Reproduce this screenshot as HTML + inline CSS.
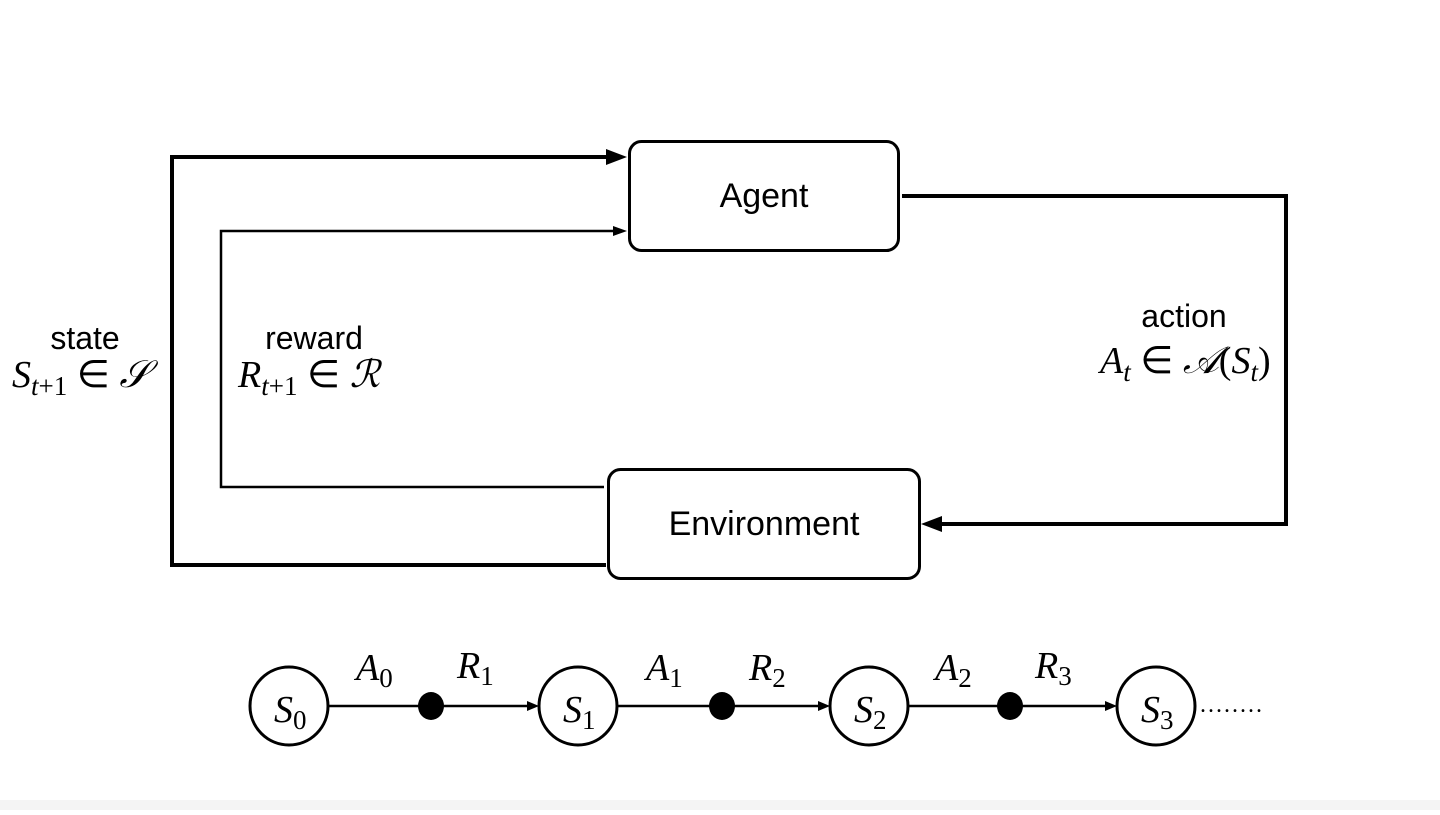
<!DOCTYPE html>
<html><head><meta charset="utf-8"><style>
body{margin:0;background:#fff;width:1440px;height:810px;overflow:hidden}
svg text{fill:#000}
.s{font-family:"Liberation Sans",sans-serif}
.m{font-family:"Liberation Serif",serif;font-style:italic}
.n{font-family:"Liberation Serif",serif}
</style></head><body>
<svg width="1440" height="810" viewBox="0 0 1440 810">
<rect x="0" y="800" width="1440" height="10" fill="#f4f4f4"/>
<g fill="none" stroke="#000" stroke-linejoin="miter">
<rect x="629.5" y="141.5" width="269" height="109" rx="12" stroke-width="3"/>
<rect x="608.5" y="469.5" width="311" height="109" rx="12" stroke-width="3"/>
<polyline points="606,565 172,565 172,157 610,157" stroke-width="4"/>
<polyline points="604,487 221,487 221,231 614,231" stroke-width="2.5"/>
<polyline points="902,196 1286,196 1286,524 940,524" stroke-width="4"/>
</g>
<polygon points="627,157 606,149 606,165"/>
<polygon points="627,231 613,226 613,236"/>
<polygon points="921,524 942,516 942,532"/>
<text class="s" x="764" y="207" font-size="34" text-anchor="middle">Agent</text>
<text class="s" x="764" y="535" font-size="34" text-anchor="middle">Environment</text>
<text class="s" x="85" y="349" font-size="32" text-anchor="middle">state</text>
<text x="12" y="387" font-size="38"><tspan class="m">S</tspan><tspan class="m" font-size="27" dy="8">t</tspan><tspan class="n" font-size="27">+1</tspan><tspan class="n" dy="-8"> ∈ </tspan><tspan class="m">𝒮</tspan></text>
<text class="s" x="314" y="349" font-size="32" text-anchor="middle">reward</text>
<text x="238" y="387" font-size="38"><tspan class="m">R</tspan><tspan class="m" font-size="27" dy="8">t</tspan><tspan class="n" font-size="27">+1</tspan><tspan class="n" dy="-8"> ∈ </tspan><tspan class="m">ℛ</tspan></text>
<text class="s" x="1184" y="327" font-size="32" text-anchor="middle">action</text>
<text x="1100" y="373" font-size="38"><tspan class="m">A</tspan><tspan class="m" font-size="27" dy="8">t</tspan><tspan class="n" dy="-8"> ∈ </tspan><tspan class="m">𝒜</tspan><tspan class="n">(</tspan><tspan class="m">S</tspan><tspan class="m" font-size="27" dy="8">t</tspan><tspan class="n" dy="-8">)</tspan></text>
<g fill="#fff" stroke="#000" stroke-width="3">
<circle cx="289" cy="706" r="39"/><circle cx="578" cy="706" r="39"/><circle cx="869" cy="706" r="39"/><circle cx="1156" cy="706" r="39"/>
</g>
<g stroke="#000" stroke-width="2.5">
<line x1="328" y1="706" x2="530" y2="706"/><line x1="617" y1="706" x2="820" y2="706"/><line x1="908" y1="706" x2="1108" y2="706"/>
</g>
<polygon points="539,706 527,701 527,711"/><polygon points="830,706 818,701 818,711"/><polygon points="1117,706 1105,701 1105,711"/>
<ellipse cx="431" cy="706" rx="13" ry="14"/><ellipse cx="722" cy="706" rx="13" ry="14"/><ellipse cx="1010" cy="706" rx="13" ry="14"/>
<g font-size="38">
<text x="274" y="722"><tspan class="m">S</tspan><tspan class="n" font-size="27" dy="7">0</tspan></text>
<text x="563" y="722"><tspan class="m">S</tspan><tspan class="n" font-size="27" dy="7">1</tspan></text>
<text x="854" y="722"><tspan class="m">S</tspan><tspan class="n" font-size="27" dy="7">2</tspan></text>
<text x="1141" y="722"><tspan class="m">S</tspan><tspan class="n" font-size="27" dy="7">3</tspan></text>
<text x="356" y="680"><tspan class="m">A</tspan><tspan class="n" font-size="27" dy="7">0</tspan></text>
<text x="457" y="678"><tspan class="m">R</tspan><tspan class="n" font-size="27" dy="7">1</tspan></text>
<text x="646" y="680"><tspan class="m">A</tspan><tspan class="n" font-size="27" dy="7">1</tspan></text>
<text x="749" y="680"><tspan class="m">R</tspan><tspan class="n" font-size="27" dy="7">2</tspan></text>
<text x="935" y="680"><tspan class="m">A</tspan><tspan class="n" font-size="27" dy="7">2</tspan></text>
<text x="1035" y="678"><tspan class="m">R</tspan><tspan class="n" font-size="27" dy="7">3</tspan></text>
</g>
<text class="n" x="1200" y="712" font-size="24" letter-spacing="2">........</text>
</svg>
</body></html>
